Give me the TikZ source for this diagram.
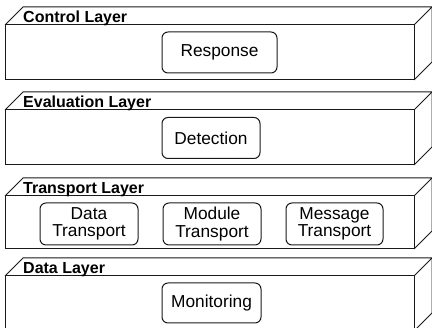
\documentclass[tikz,border=0pt]{standalone}
\usepackage{fontspec}
\setmainfont{Liberation Sans}
\begin{document}
\begin{tikzpicture}[x=1pt, y=-1pt,
  edge/.style={draw=black!90, line width=1pt, line join=miter},
  layerlabel/.style={anchor=base west, inner sep=0pt,
    font=\fontsize{16}{17}\selectfont\bfseries},
  func/.style={draw=black!90, line width=1pt, rounded corners=6pt,
    inner sep=0pt, align=center,
    font=\fontsize{17.3}{17.5}\selectfont},
]
\useasboundingbox (0,0) rectangle (432,328);
\clip (0,0) rectangle (432,328);

% layer boxes: front top, front bottom, depth offset 18
\foreach \ft/\fb in {25/80, 110/165, 196/249, 276/331}{
  \draw[edge] (5,\ft) rectangle (414,\fb);
  \draw[edge] (5,\ft) -- (23,\ft-18) -- (432,\ft-18) -- (414,\ft);
  \draw[edge] (414,\fb) -- (432,\fb-18) -- (432,\ft-18);
}

% layer names on the top faces
\node[layerlabel] (lctl) at (23,22.5) {Control Layer};
\node[layerlabel] (leval) at (23,107.5) {Evaluation Layer};
\node[layerlabel] (ltrans) at (23,193.5) {Transport Layer};
\node[layerlabel] (ldata) at (23,273.5) {Data Layer};

% functions of each layer
\node[func, minimum width=115pt, minimum height=41pt] (resp) at (219.5,52.5) {Response};
\node[func, minimum width=98pt, minimum height=41pt] (det) at (211,138) {Detection};
\node[func, minimum width=98pt, minimum height=42pt] (dtr) at (89,224) {Data\\Transport};
\node[func, minimum width=98pt, minimum height=42pt] (mtr) at (212,224) {Module\\Transport};
\node[func, minimum width=97pt, minimum height=42pt] (msg) at (334.5,224) {Message\\Transport};
\node[func, minimum width=99pt, minimum height=40pt] (mon) at (211.5,303) {Monitoring};
\end{tikzpicture}
\end{document}
